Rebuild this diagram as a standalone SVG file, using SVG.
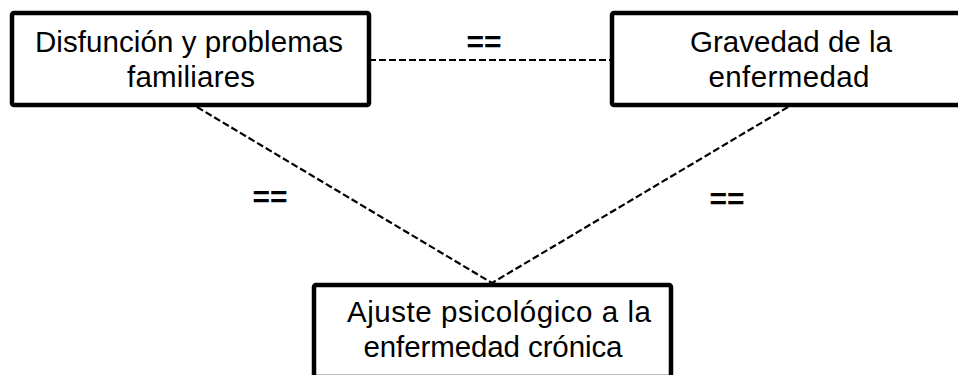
<svg xmlns="http://www.w3.org/2000/svg" width="958" height="375" viewBox="0 0 958 375">
<style>
.box{fill:#fff;stroke:#000;stroke-width:4.5}
.t{font-family:"Liberation Sans",Arial,sans-serif;font-size:29.5px;fill:#000;text-anchor:middle}
.eq{font-family:"Liberation Sans",Arial,sans-serif;font-size:30px;font-weight:bold;fill:#000;text-anchor:middle}
.c{stroke:#000;stroke-width:2.2;fill:none;stroke-dasharray:7 3}
</style>
<rect width="958" height="375" fill="#fff"/>
<g id="connectors">
<line class="c" x1="369" y1="60" x2="612" y2="60"/>
<line class="c" x1="197" y1="107" x2="492" y2="283"/>
<line class="c" x1="788" y1="107" x2="492" y2="283"/>
<text class="eq" x="484" y="52">==</text>
<text class="eq" x="270" y="207">==</text>
<text class="eq" x="727" y="209">==</text>
</g>
<g id="node-disfuncion">
<rect class="box" x="12" y="13" width="357" height="92" rx="2"/>
<text class="t" x="189" y="51.5" textLength="308" lengthAdjust="spacing">Disfunción y problemas</text>
<text class="t" x="191" y="86.5" textLength="128" lengthAdjust="spacing">familiares</text>
</g>
<g id="node-gravedad">
<rect class="box" x="612" y="13" width="356" height="92" rx="2"/>
<text class="t" x="791" y="52" textLength="202" lengthAdjust="spacing">Gravedad de la</text>
<text class="t" x="789" y="87" textLength="161" lengthAdjust="spacing">enfermedad</text>
</g>
<g id="node-ajuste">
<rect class="box" x="314" y="285" width="357" height="92" rx="2"/>
<text class="t" x="499" y="321.5" textLength="304" lengthAdjust="spacing">Ajuste psicológico a la</text>
<text class="t" x="493" y="356.5" textLength="259" lengthAdjust="spacing">enfermedad crónica</text>
</g>
</svg>
